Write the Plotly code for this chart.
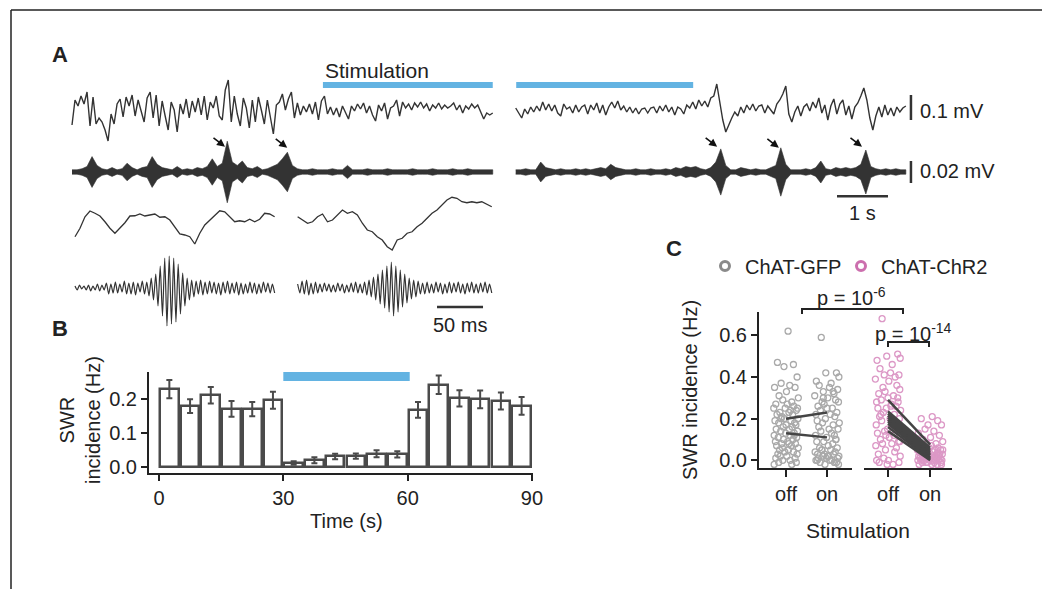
import numpy as np
import plotly.graph_objects as go

W, H = 1042, 589
def fx(p): return p / W
def fy(p): return 1 - p / H

FONT = "Liberation Sans, Arial, sans-serif"
DARK = "#333333"
AX = "#222222"
BLUE = "#63b3e2"

# ---------------- Panel A data ----------------
# wide-band LFP (uV), sweep before/during stimulation (left) and during/after stimulation (right)
lfp_left_uV = [-60, 40, 16, 56, 24, 72, -64, 52, -56, -32, -48, -80, -124, -16, -56, 24, 44, -28, 52, 16,
               60, -24, 40, -8, -48, 48, 72, -32, 60, -64, 36, -24, -80, 32, 0, -88, 24, -16, 44, -32,
               36, -8, 48, -20, 56, -40, 32, 8, 56, -24, -40, 80, 120, -48, 56, -16, -64, 48, 8, -72,
               40, -48, 52, 0, -56, 40, -28, -96, 20, 32, 64, 0, 44, 72, -32, 28, -20, 16, -8, 24,
               -16, 32, -40, 36,
               56, -16, 12, -20, 8, -28, 16, -12, -36, 16, -4, 24, 4, 28, -12, 16, -20, -44, 20, -4,
               28, -36, 8, 16, 40, -24, 32, 8, 24, 0, 28, 12, 32, 8, 24, -4, 20, 8, 28, 4,
               20, 8, 16, 28, 0, 20, -12, 16, 4, 24, 8, 20, -8, -36, -12, -20, -12]
lfp_right_uV = [8, -12, -32, 4, -16, 12, -8, 16, -4, 32, 0, 24, -4, 20, -12, -24, 24, 4, 12, -12,
                20, -8, 12, 20, -16, 20, 0, 28, -12, 20, -20, 12, 32, 8, 36, 0, 16, -8, 12, -12,
                8, -16, 4, 8, -12, 8, 12, -12, 16, -4, 20, -8, 12, -20, 12, 4, -16, 20, 8, 32,
                4, 40, 16, 36, 12, 48, 56, 104, 32, -40, -88, -56, -32, -8, -24, 12, -12, 20, 0, 24,
                -4, 16, 20, -12, 16, 0, -16, 24, 40, 64, 96, -16, -48, -8, 16, -24, 12, 24, -4, 32,
                8, 48, -12, 20, -40, 16, 44, -16, 24, 40, -20, 16, -36, 12, 28, 56, 88, 40, -32, -80,
                -24, 12, -28, 20, -20, 8, -24, 12, -8, 8, 16]
# ripple-band envelope, uV
ripple_env_left_uV = [2, 2, 3, 5, 14, 6, 3, 2, 4, 2, 3, 8, 4, 2, 4, 5, 14, 7, 4, 3, 2, 5, 2, 3, 2, 4, 3, 5,
                      12, 5, 8, 28, 9, 6, 10, 4, 3, 5, 2, 3, 5, 7, 12, 18, 6, 3, 2, 2, 3, 2, 2, 2, 3, 2,
                      2, 6, 2, 2, 2, 3, 2, 2, 2, 3, 2, 2, 2, 2, 3, 2, 2, 2, 3, 2, 2, 2, 3, 2, 2, 3, 2, 2,
                      2, 2, 2]
ripple_env_right_uV = [2, 2, 3, 2, 2, 9, 4, 3, 2, 3, 2, 2, 3, 2, 3, 2, 3, 4, 3, 7, 4, 3, 2, 2, 3, 2, 2,
                       3, 2, 2, 3, 2, 4, 3, 5, 4, 5, 3, 2, 4, 9, 21, 6, 2, 2, 4, 3, 2, 3, 2, 2, 4, 6,
                       22, 7, 2, 2, 2, 3, 2, 4, 10, 3, 2, 4, 3, 4, 3, 4, 7, 20, 5, 3, 2, 3, 2, 3, 2, 2]
# zoomed SWR examples: wide band (uV) and ripple band (uV)
slow_zoom_left_uV = [-59, -25, 21, 44, 35, 24, 1, -25, -45, -25, -3, 24, 25, 32, 24, 28, 32, 19, 21, 8,
                     -21, -48, -52, -59, -88, -45, -12, 8, 28, 45, 41, 21, 1, 5, 1, 11, 1, 11, 35, 32, 21]
slow_zoom_right_uV = [21, 8, -5, 1, 21, 32, 1, 8, 28, 48, 35, 41, 28, -5, -32, -39, -59, -72, -99, -112,
                      -72, -65, -45, -39, -19, -5, 15, 35, 48, 68, 88, 99, 95, 81, 77, 81, 77, 81, 72, 61]
ripple_zoom_left_uV = [2, -2, 3, -1, 2, -2, 3, -3, 2, -2, 4, -3, 3, -2,
                       5, -6, 4, -5, 6, -5, 4, -4, 7, -6, 5, -6, 6, -7, 5, -4, 7, -6,
                       6, -8, 10, -12, 14, -18, 22, -28, 30, -38, 32, -36, 30, -34, 24, -26, 15, -18, 10, -12,
                       8, -9, 7, -6, 8, -7, 6, -6, 7, -5, 6, -6, 5, -7, 6, -5, 7, -6, 5, -5, 6, -7, 5, -6,
                       4, -5, 6, -5, 5, -6, 4, -5, 6, -4, 5, -5, 4, -5]
ripple_zoom_right_uV = [4, -5, 7, -6, 8, -7, 5, -6, 6, -5, 4, -4, 5, -3, 4, -4, 3, -4, 5, -3, 4, -5, 3, -4,
                        5, -4, 6, -5, 4, -5,
                        6, -7, 8, -9, 11, -12, 14, -16, 18, -20, 22, -24, 26, -28, 22, -24, 18, -19, 14, -15,
                        10, -11, 8, -9,
                        7, -6, 5, -6, 6, -5, 4, -5, 6, -4, 5, -6, 4, -5, 6, -5, 5, -4, 6, -5, 4, -6, 5, -4,
                        6, -5, 4, -5, 5, -4, 6, -5, 4, -5]

sweep_left_s, sweep_gap_s, sweep_right_s = 8.25, 0.45, 7.65
zoom_left_ms, zoom_gap_ms, zoom_right_ms = 217, 25, 211
stim_periods_s = [(4.92, 8.25), (8.71, 12.18)]
swr_marks_s = [3.0, 4.22, 12.65, 13.86, 15.49]
swr_marks_uV = [23, 22, 23, 22, 23]

# ---------------- Panel B data ----------------
bin_centers_s = [2.5, 7.5, 12.5, 17.5, 22.5, 27.5, 32.5, 37.5, 42.5, 47.5, 52.5, 57.5,
                 62.5, 67.5, 72.5, 77.5, 82.5, 87.5]
swr_rate_hz = [0.229, 0.179, 0.211, 0.171, 0.170, 0.196, 0.012, 0.020, 0.031, 0.032, 0.039, 0.037,
               0.168, 0.242, 0.202, 0.199, 0.194, 0.180]
swr_sem_hz = [0.027, 0.020, 0.024, 0.023, 0.021, 0.025, 0.005, 0.009, 0.008, 0.008, 0.010, 0.009,
              0.023, 0.027, 0.024, 0.026, 0.025, 0.026]
stim_window_s = (30, 60.5)

# ---------------- Panel C data ----------------
gfp_off_hz = [0.62, 0.47, 0.46, 0.45, 0.40, 0.37, 0.36, 0.35, 0.35, 0.33, 0.31, 0.30, 0.29, 0.28, 0.27, 0.27,
              0.26, 0.25, 0.25, 0.24, 0.24, 0.23, 0.23, 0.22, 0.22, 0.21, 0.20, 0.20, 0.19, 0.19, 0.18, 0.18,
              0.17, 0.17, 0.16, 0.16, 0.15, 0.15, 0.14, 0.14, 0.13, 0.13, 0.12, 0.12, 0.11, 0.11, 0.10, 0.10,
              0.09, 0.09, 0.08, 0.08, 0.07, 0.07, 0.06, 0.06, 0.05, 0.05, 0.04, 0.04, 0.03, 0.03, 0.02, 0.02,
              0.01, 0.01, 0.00, 0.00, -0.01, -0.01, -0.02, -0.02, 0.08, 0.12, 0.20, 0.25]
gfp_on_hz = [0.59, 0.42, 0.42, 0.40, 0.38, 0.37, 0.36, 0.35, 0.34, 0.33, 0.32, 0.31, 0.30, 0.29, 0.28, 0.28,
             0.27, 0.26, 0.25, 0.25, 0.24, 0.23, 0.22, 0.22, 0.21, 0.20, 0.19, 0.18, 0.18, 0.17, 0.16, 0.15,
             0.15, 0.14, 0.13, 0.12, 0.12, 0.11, 0.10, 0.09, 0.09, 0.08, 0.07, 0.06, 0.06, 0.05, 0.05, 0.04,
             0.04, 0.03, 0.03, 0.03, 0.02, 0.02, 0.02, 0.01, 0.01, 0.01, 0.00, 0.00, 0.00, -0.01, -0.01, -0.01,
             -0.02, -0.02, 0.00, 0.02, 0.05, 0.10, 0.30, 0.33]
chr2_off_hz = [0.68, 0.51, 0.50, 0.49, 0.48, 0.46, 0.44, 0.42, 0.41, 0.41, 0.40, 0.39, 0.38, 0.36, 0.35, 0.34,
               0.33, 0.32, 0.31, 0.30, 0.29, 0.28, 0.28, 0.27, 0.26, 0.25, 0.25, 0.24, 0.23, 0.22, 0.21, 0.20,
               0.20, 0.19, 0.18, 0.17, 0.16, 0.15, 0.15, 0.14, 0.13, 0.12, 0.11, 0.10, 0.09, 0.08, 0.08, 0.07,
               0.06, 0.05, 0.04, 0.03, 0.02, 0.01, 0.00, -0.01, -0.01, -0.02, -0.02, 0.00, 0.26, 0.30, 0.22,
               0.18, 0.12, 0.09]
chr2_on_hz = [0.21, 0.20, 0.19, 0.17, 0.17, 0.15, 0.14, 0.13, 0.12, 0.11, 0.10, 0.09, 0.08, 0.08, 0.07, 0.07,
              0.06, 0.06, 0.05, 0.05, 0.05, 0.04, 0.04, 0.04, 0.03, 0.03, 0.03, 0.03, 0.02, 0.02, 0.02, 0.02,
              0.02, 0.01, 0.01, 0.01, 0.01, 0.01, 0.00, 0.00, 0.00, 0.00, 0.00, -0.01, -0.01, -0.01, -0.01,
              -0.02, -0.02, -0.02, 0.03, 0.01, 0.00, 0.02, 0.05, -0.01, 0.00, 0.01, 0.04, 0.02, -0.02, 0.00]
jitter_a = [0.05, -0.21, 0.18, -0.05, 0.27, -0.12, 0.09, -0.28, 0.22, 0.01, -0.17, 0.30, -0.08, 0.14, -0.25, 0.03,
            0.19, -0.02, -0.30, 0.11, 0.25, -0.15, 0.07, -0.22, 0.16, -0.10, 0.29, -0.04, 0.12, -0.27, 0.21, -0.18,
            0.00, 0.24, -0.07, 0.15, -0.24, 0.08, -0.13, 0.28, -0.01, 0.20, -0.29, 0.10, -0.19, 0.26, -0.06, 0.17,
            -0.26, 0.04, 0.23, -0.11, 0.13, -0.23, 0.30, -0.09, 0.06, -0.16, 0.18, -0.03, 0.27, -0.20, 0.02, -0.14,
            0.22, -0.25, 0.10, -0.08, 0.25, -0.18, 0.14, -0.29, 0.07, 0.20, -0.12, 0.28, -0.05, 0.16, -0.22, 0.01]
jitter_b = [-0.14, 0.23, -0.03, 0.29, -0.26, 0.10, -0.19, 0.06, 0.26, -0.09, 0.17, -0.30, 0.02, 0.21, -0.12, 0.28,
            -0.07, -0.22, 0.13, 0.00, -0.16, 0.24, -0.27, 0.08, 0.19, -0.04, -0.24, 0.30, -0.11, 0.15, -0.20, 0.05,
            0.27, -0.15, 0.11, -0.28, 0.18, -0.01, 0.22, -0.08, -0.25, 0.14, 0.03, -0.18, 0.25, -0.13, 0.09, -0.29,
            0.20, -0.06, 0.16, -0.23, 0.29, -0.10, 0.01, -0.21, 0.26, -0.02, 0.12, -0.27, 0.07, 0.23, -0.17, 0.18,
            -0.05, 0.28, -0.24, 0.04, -0.12, 0.21, -0.09, 0.15, -0.30, 0.10, -0.19, 0.27, -0.03, 0.17, -0.26, 0.08]
gfp_pair_off = [0.20, 0.13]
gfp_pair_on = [0.23, 0.11]
chr2_pair_off = [0.29, 0.235, 0.225, 0.215, 0.205, 0.195, 0.185, 0.175, 0.16, 0.14]
chr2_pair_on = [0.075, 0.06, 0.05, 0.04, 0.03, 0.025, 0.015, 0.01, 0.005, 0.0]
conditions = ["off", "on"]

fig = go.Figure()

# ---------- Panel A traces ----------
tL = np.linspace(0, sweep_left_s, len(lfp_left_uV))
tR = np.linspace(sweep_left_s + sweep_gap_s, sweep_left_s + sweep_gap_s + sweep_right_s, len(lfp_right_uV))
for t, v in [(tL, lfp_left_uV), (tR, lfp_right_uV)]:
    fig.add_trace(go.Scatter(x=t, y=v, mode="lines", line=dict(color=DARK, width=1.4),
                             xaxis="x", yaxis="y", showlegend=False, hoverinfo="skip"))
eL = np.linspace(0, sweep_left_s, len(ripple_env_left_uV))
eR = np.linspace(sweep_left_s + sweep_gap_s, sweep_left_s + sweep_gap_s + sweep_right_s, len(ripple_env_right_uV))
for t, env in [(eL, ripple_env_left_uV), (eR, ripple_env_right_uV)]:
    env = np.array(env, dtype=float)
    xs = np.concatenate([t, t[::-1]])
    ys = np.concatenate([env, -env[::-1]])
    fig.add_trace(go.Scatter(x=xs, y=ys, mode="lines", fill="toself", fillcolor=DARK,
                             line=dict(color=DARK, width=0.6),
                             xaxis="x", yaxis="y2", showlegend=False, hoverinfo="skip"))

zL = np.linspace(0, zoom_left_ms, len(slow_zoom_left_uV))
zR = np.linspace(zoom_left_ms + zoom_gap_ms, zoom_left_ms + zoom_gap_ms + zoom_right_ms, len(slow_zoom_right_uV))
for t, v in [(zL, slow_zoom_left_uV), (zR, slow_zoom_right_uV)]:
    fig.add_trace(go.Scatter(x=t, y=v, mode="lines", line=dict(color=DARK, width=1.3),
                             xaxis="x3", yaxis="y3", showlegend=False, hoverinfo="skip"))
rL = np.linspace(0, zoom_left_ms, len(ripple_zoom_left_uV))
rR = np.linspace(zoom_left_ms + zoom_gap_ms, zoom_left_ms + zoom_gap_ms + zoom_right_ms, len(ripple_zoom_right_uV))
for t, v in [(rL, ripple_zoom_left_uV), (rR, ripple_zoom_right_uV)]:
    fig.add_trace(go.Scatter(x=t, y=v, mode="lines", line=dict(color=DARK, width=1.2, shape="spline", smoothing=0.6),
                             xaxis="x3", yaxis="y4", showlegend=False, hoverinfo="skip"))

# ---------- Panel B ----------
fig.add_trace(go.Bar(x=bin_centers_s, y=swr_rate_hz, width=4.5,
                     marker=dict(color="white", line=dict(color="#4a4a4a", width=2.5)),
                     error_y=dict(type="data", array=swr_sem_hz, color="#4a4a4a", thickness=2, width=3),
                     xaxis="x5", yaxis="y5", showlegend=False, hoverinfo="skip"))

# ---------- Panel C ----------
GFP_C, CHR_C = "#a9a9a9", "#dc98c6"
def scat(xc, jit, vals, color, xa):
    fig.add_trace(go.Scatter(x=[xc + j for j in jit[:len(vals)]], y=vals, mode="markers",
                             marker=dict(symbol="circle-open", size=6, color=color, line=dict(width=1.3)),
                             xaxis=xa, yaxis="y6", showlegend=False, hoverinfo="skip", cliponaxis=False))
scat(0, jitter_a, gfp_off_hz, GFP_C, "x6")
scat(1, jitter_b, gfp_on_hz, GFP_C, "x6")
scat(0, jitter_b, chr2_off_hz, CHR_C, "x7")
scat(1, jitter_a, chr2_on_hz, CHR_C, "x7")
for offs, ons, xa in [(gfp_pair_off, gfp_pair_on, "x6"), (chr2_pair_off, chr2_pair_on, "x7")]:
    xs, ys = [], []
    for a, b in zip(offs, ons):
        xs += [0, 1, None]
        ys += [a, b, None]
    fig.add_trace(go.Scatter(x=xs, y=ys, mode="lines", line=dict(color="#444444", width=2.5),
                             xaxis=xa, yaxis="y6", showlegend=False, hoverinfo="skip"))
# legend entries
fig.add_trace(go.Scatter(x=[None], y=[None], mode="markers", name="ChAT-GFP", legend="legend",
                         marker=dict(symbol="circle-open", size=9, color="#8a8a8a", line=dict(width=3)),
                         xaxis="x6", yaxis="y6"))
fig.add_trace(go.Scatter(x=[None], y=[None], mode="markers", name="ChAT-ChR2", legend="legend2",
                         marker=dict(symbol="circle-open", size=9, color="#cc6fae", line=dict(width=3)),
                         xaxis="x6", yaxis="y6"))

hidden = dict(visible=False, fixedrange=True, showgrid=False, zeroline=False, automargin=False)
axstyle = dict(showline=True, linecolor=AX, linewidth=2, ticks="outside", tickcolor=AX, tickwidth=2,
               showgrid=False, zeroline=False, tickfont=dict(size=20, color=AX), fixedrange=True,
               automargin=False)
leg = dict(orientation="h", xanchor="left", yanchor="middle", y=fy(266),
           font=dict(size=20, color=AX), bgcolor="rgba(0,0,0,0)", itemwidth=30, borderwidth=0)

layout = dict(
    width=W, height=H, margin=dict(l=0, r=0, t=0, b=0, pad=0, autoexpand=False), autosize=False,
    paper_bgcolor="white", plot_bgcolor="rgba(0,0,0,0)",
    font=dict(family=FONT, color=AX, size=20),
    xaxis=dict(domain=[0, 1], range=[-72 / 51, 970 / 51], anchor="y", **hidden),
    yaxis=dict(domain=[0, 1], range=[-(H - 110) * 4, 110 * 4], anchor="x", **hidden),
    yaxis2=dict(overlaying="y", anchor="x", range=[-(H - 172) / 1.1, 172 / 1.1], **hidden),
    xaxis3=dict(domain=[0, 1], range=[-75 / 0.92, 967 / 0.92], anchor="y3", **hidden),
    yaxis3=dict(domain=[0, 1], range=[-(H - 222) * 4, 222 * 4], anchor="x3", **hidden),
    yaxis4=dict(overlaying="y3", anchor="x3", range=[-(H - 288), 288], **hidden),
    xaxis5=dict(domain=[fx(149), fx(533)], range=[-2.41, 90.25], anchor="y5",
                tickvals=[0, 30, 60, 90], ticklen=6, **axstyle),
    yaxis5=dict(domain=[fy(473), fy(372)], range=[-0.0176, 0.2794], anchor="x5",
                tickvals=[0, 0.1, 0.2], ticktext=["0.0", "0.1", "0.2"], ticklen=6, **axstyle),
    xaxis6=dict(domain=[fx(759), fx(852)], range=[-0.66, 1.61], anchor="y6",
                tickvals=[0, 1], ticktext=conditions, ticklen=7, **axstyle),
    xaxis7=dict(domain=[fx(864), fx(952)], range=[-0.57, 1.52], anchor="y6",
                tickvals=[0, 1], ticktext=conditions, ticklen=7, **axstyle),
    yaxis6=dict(domain=[fy(468), fy(312)], range=[-0.037, 0.712], anchor="x6",
                tickvals=[0, 0.2, 0.4, 0.6], ticktext=["0.0", "0.2", "0.4", "0.6"], ticklen=6, **axstyle),
    legend=dict(x=fx(705), **leg),
    legend2=dict(x=fx(841), **leg),
    bargap=0,
)

shapes = []
# frame
shapes.append(dict(type="line", xref="paper", yref="paper", x0=fx(11), x1=fx(11), y0=fy(10), y1=0,
                   line=dict(color=AX, width=1.5)))
shapes.append(dict(type="line", xref="paper", yref="paper", x0=fx(11), x1=1, y0=fy(10), y1=fy(10),
                   line=dict(color=AX, width=1.5)))
# stimulation bars
for a, b in stim_periods_s:
    shapes.append(dict(type="rect", xref="x", yref="y", x0=a, x1=b, y0=88, y1=112,
                       fillcolor=BLUE, line=dict(width=0)))
shapes.append(dict(type="rect", xref="x5", yref="y5", x0=stim_window_s[0], x1=stim_window_s[1],
                   y0=0.253, y1=0.2794, fillcolor=BLUE, line=dict(width=0)))
# scale bars
shapes.append(dict(type="line", xref="x", yref="y", x0=16.45, x1=16.45, y0=-40, y1=60,
                   line=dict(color=DARK, width=2.5)))
shapes.append(dict(type="line", xref="x", yref="y2", x0=16.45, x1=16.45, y0=-10, y1=10,
                   line=dict(color=DARK, width=2.5)))
shapes.append(dict(type="line", xref="x", yref="y2", x0=15.0, x1=16.0, y0=-22, y1=-22,
                   line=dict(color=DARK, width=2.5)))
shapes.append(dict(type="line", xref="x3", yref="y4", x0=393.5, x1=443.5, y0=-19, y1=-19,
                   line=dict(color=DARK, width=2.5)))
# significance brackets (panel C)
shapes.append(dict(type="path", xref="paper", yref="paper",
                   path=f"M{fx(802)},{fy(314)} L{fx(802)},{fy(309)} L{fx(903)},{fy(309)} L{fx(903)},{fy(314)}",
                   line=dict(color=AX, width=2)))
shapes.append(dict(type="path", xref="paper", yref="paper",
                   path=f"M{fx(888)},{fy(347)} L{fx(888)},{fy(342)} L{fx(929)},{fy(342)} L{fx(929)},{fy(347)}",
                   line=dict(color=AX, width=2)))
layout["shapes"] = shapes

ann = []
def txt(x, y, s, size=20, bold=False, xanchor="center", yanchor="middle", angle=0, xref="paper", yref="paper"):
    ann.append(dict(x=x, y=y, xref=xref, yref=yref, text=f"<b>{s}</b>" if bold else s, showarrow=False,
                    xanchor=xanchor, yanchor=yanchor, textangle=angle,
                    font=dict(size=size, color=AX, family=FONT)))
txt(fx(60), fy(55), "A", size=22, bold=True)
txt(fx(60), fy(328), "B", size=22, bold=True)
txt(fx(674), fy(248), "C", size=22, bold=True)
txt(stim_periods_s[0][0], fy(70), "Stimulation", size=21, xanchor="left", xref="x")
txt(fx(918), fy(111), "0.1 mV", size=20, xanchor="left")
txt(fx(918), fy(171), "0.02 mV", size=20, xanchor="left")
txt(15.5, fy(213), "1 s", size=20, xref="x")
txt(418.5, fy(325), "50 ms", size=20, xref="x3")
txt(fx(80), fy(420), "SWR<br>incidence (Hz)", size=20, angle=-90)
txt(fx(347), fy(521), "Time (s)", size=20)
txt(fx(690), fy(390), "SWR incidence (Hz)", size=20, angle=-90)
txt(fx(858), fy(530), "Stimulation", size=21)
txt(fx(851), fy(296), "p = 10<sup>-6</sup>", size=20)
txt(fx(913), fy(332), "p = 10<sup>-14</sup>", size=20)
for t, v in zip(swr_marks_s, swr_marks_uV):
    ann.append(dict(x=t, y=v, xref="x", yref="y2", text="", showarrow=True, ax=-13, ay=-10,
                    arrowhead=2, arrowsize=1, arrowwidth=1.6, arrowcolor="#111111"))
layout["annotations"] = ann

fig.update_layout(**layout)
fig.write_html("out.html", config={"displayModeBar": False},
               post_script="document.body.style.margin='0';document.body.style.overflow='hidden';")
